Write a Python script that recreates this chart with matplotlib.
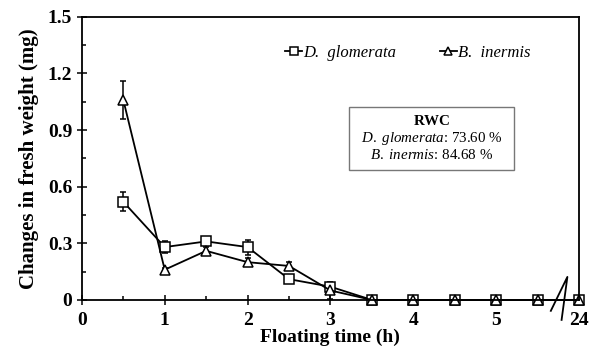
import matplotlib.pyplot as plt
from matplotlib.lines import Line2D
from matplotlib.patches import Rectangle
import numpy as np

plt.rcParams['font.family'] = 'Liberation Serif'
plt.rcParams['mathtext.fontset'] = 'custom'
plt.rcParams['mathtext.it'] = 'Liberation Serif:italic'
plt.rcParams['mathtext.rm'] = 'Liberation Serif'
plt.rcParams['mathtext.bf'] = 'Liberation Serif:bold'

# floating time (h); 24 h sits at axis position 6 after the break
times = [0.5, 1, 1.5, 2, 2.5, 3, 3.5, 4, 4.5, 5, 5.5, 24]
xpos = [t if t < 24 else 6 for t in times]

dg_mean = [0.52, 0.28, 0.31, 0.28, 0.11, 0.07, 0, 0, 0, 0, 0, 0]
dg_err = [0.05, 0.03, 0.02, 0.04, 0.02, 0.01, 0, 0, 0, 0, 0, 0]
bi_mean = [1.06, 0.16, 0.26, 0.20, 0.18, 0.05, 0, 0, 0, 0, 0, 0]
bi_err = [0.10, 0.01, 0.02, 0.02, 0.02, 0.045, 0, 0, 0, 0, 0, 0]

xtick_pos = [0, 1, 2, 3, 4, 5, 6]
xtick_labels = ['0', '1', '2', '3', '4', '5', '24']

fig = plt.figure(figsize=(5.89, 3.52), dpi=100)
ax = fig.add_axes([0.139, 0.148, 0.844, 0.804])

mk = dict(markerfacecolor='white', markeredgecolor='black', markeredgewidth=1.1)
common = dict(color='black', lw=1.3, elinewidth=1.1, capsize=2.5, capthick=1.1, **mk)
for mean, err, m in [(dg_mean, dg_err, 's'), (bi_mean, bi_err, '^')]:
    cont = ax.errorbar(xpos, mean, yerr=err, marker=m, ms=7, **common)
    cont[0].set_clip_on(False)
    for art in cont[1] + cont[2]:
        art.set_clip_on(False)

ax.set_xlim(0, 6)
ax.set_ylim(0, 1.5)
ax.set_xticks(xtick_pos)
ax.set_xticklabels(xtick_labels)
ax.set_xticks(np.arange(0.5, 6, 1), minor=True)
ax.set_yticks([0, 0.3, 0.6, 0.9, 1.2, 1.5])
ax.set_yticklabels(['0', '0.3', '0.6', '0.9', '1.2', '1.5'])
ax.set_yticks(np.arange(0.15, 1.5, 0.3), minor=True)
ax.tick_params(which='major', direction='inout', length=7, width=1.1, labelsize=14)
ax.tick_params(which='minor', direction='in', length=3, width=1.1)
ax.tick_params(axis='x', pad=5)
for lab in ax.get_xticklabels() + ax.get_yticklabels():
    lab.set_fontweight('bold')
for s in ax.spines.values():
    s.set_linewidth(1.3)

ax.set_xlabel('Floating time (h)', fontsize=14, fontweight='bold', labelpad=0)
ax.set_ylabel('Changes in fresh weight (mg)', fontsize=15, fontweight='bold', labelpad=6)

# axis break between 5.5 h and 24 h
ax.add_line(Line2D([5.66, 5.86, 5.79], [-0.058, 0.122, -0.106],
                   color='black', lw=1.3, clip_on=False))

handles = [Line2D([], [], color='black', lw=1.3, marker='s', ms=6, **mk),
           Line2D([], [], color='black', lw=1.3, marker='^', ms=6, **mk)]
leg = ax.legend(handles, ['D.  glomerata', 'B.  inermis'], loc='center',
                bbox_to_anchor=(0.656, 0.873), ncol=2, frameon=False,
                handlelength=1.0, handletextpad=0.1, columnspacing=2.6, fontsize=12)
for t in leg.get_texts():
    t.set_fontstyle('italic')

# RWC summary box
ax.add_patch(Rectangle((0.537, 0.459), 0.332, 0.223, transform=ax.transAxes,
                       facecolor='white', edgecolor='#777777', lw=1, zorder=3))
ax.text(0.703, 0.571,
        r'$\mathbf{RWC}$' + '\n' + r'$\it{D.\ glomerata}$: 73.60 %' + '\n' + r'$\it{B.\ inermis}$: 84.68 %',
        transform=ax.transAxes, ha='center', va='center', fontsize=10.8,
        linespacing=1.12, zorder=4)

fig.savefig('out.png', dpi=100)
